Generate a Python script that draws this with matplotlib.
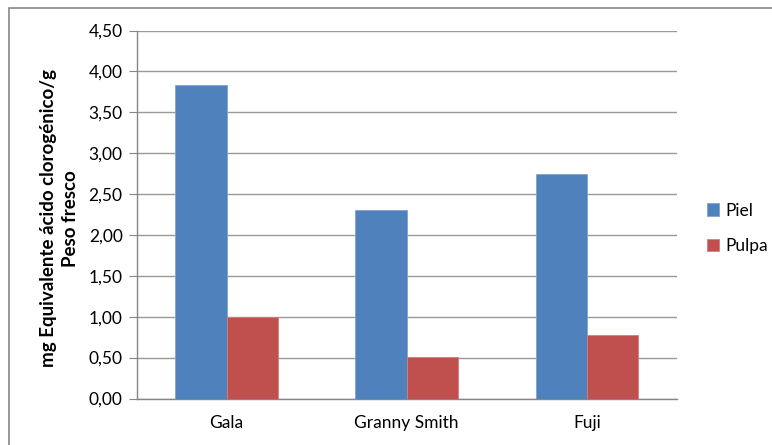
import numpy as np
import matplotlib
matplotlib.use("Agg")
import matplotlib.pyplot as plt
from matplotlib.patches import Rectangle

# datos
variedades = ["Gala", "Granny Smith", "Fuji"]
piel = [3.83, 2.30, 2.74]
pulpa = [1.00, 0.51, 0.78]
yticks = [0, 0.5, 1.0, 1.5, 2.0, 2.5, 3.0, 3.5, 4.0, 4.5]

plt.rcParams['font.family'] = ['Lato', 'DejaVu Sans']

W, H = 772, 445
fig = plt.figure(figsize=(W / 100, H / 100), dpi=100)

# borde del area del grafico (se corta por la derecha y abajo)
fig.patches.append(Rectangle((8.5 / W, -0.1), 1.2, 1 - 7.5 / H + 0.1,
                             transform=fig.transFigure, fill=False,
                             edgecolor="#868686", linewidth=1.2))

ax = fig.add_axes([136.5 / W, 1 - 398.5 / H, (677 - 136.5) / W, (398.5 - 30.5) / H])

x = np.arange(len(variedades))
w = 0.285
ax.bar(x - w / 2, piel, w, color="#4f81bd", edgecolor="#7ea3d3", linewidth=0.6, label="Piel", zorder=3)
ax.bar(x + w / 2, pulpa, w, color="#c0504d", edgecolor="#d37f7c", linewidth=0.6, label="Pulpa", zorder=3)

ax.set_xlim(-0.5, len(variedades) - 0.5)
ax.set_ylim(0, 4.5)
ax.set_yticks(yticks)
ax.set_yticklabels([f"{v:.2f}".replace(".", ",") for v in yticks], fontsize=12.5)
ax.set_xticks(x)
ax.set_xticklabels(variedades, fontsize=12.5)
ax.tick_params(axis="x", length=0, pad=12)
ax.tick_params(axis="y", length=6, color="#868686", pad=4)

ax.yaxis.grid(True, color="#999999", linewidth=1.0, zorder=0)
for s in ["top", "right"]:
    ax.spines[s].set_visible(False)
for s in ["left", "bottom"]:
    ax.spines[s].set_color("#868686")
    ax.spines[s].set_linewidth(1.0)

ax.set_ylabel("mg Equivalente ácido clorogénico/g\nPeso fresco", fontsize=13.5,
              fontweight="bold", linespacing=1.35)
ax.yaxis.set_label_coords(-0.106, 0.49)

ax.legend(loc="center left", bbox_to_anchor=(1.055, 0.463), frameon=False,
          fontsize=12.5, handlelength=0.7, handleheight=0.7, handletextpad=0.35,
          labelspacing=1.1, borderpad=0, borderaxespad=0)

fig.savefig("out.png", dpi=100)
